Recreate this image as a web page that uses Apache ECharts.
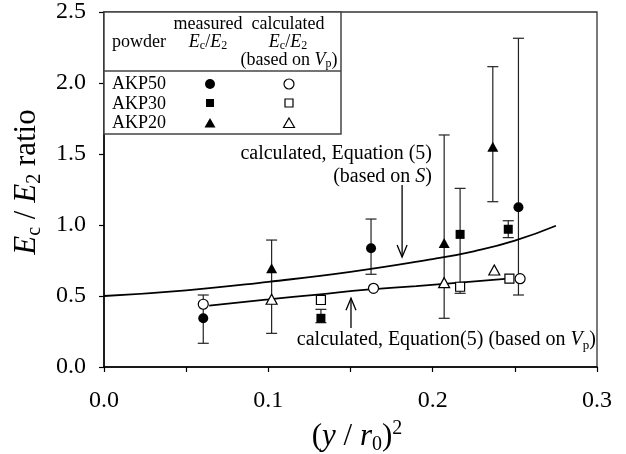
<!DOCTYPE html>
<html><head><meta charset="utf-8">
<script src="https://cdn.jsdelivr.net/npm/echarts@6/dist/echarts.min.js"></script>
<style>html,body{margin:0;padding:0;background:#fff}#c{width:626px;height:454px}</style>
</head><body><div id="c"></div>
<script>
// ---- data ----
const xTicks = [0.0, 0.1, 0.2, 0.3];
const yTicks = [0.0, 0.5, 1.0, 1.5, 2.0, 2.5];

// measured Ec/E2 with error bars
const akp50X = [0.0604, 0.1625, 0.2522];
const akp50Meas = [0.343, 0.836, 1.125];
const akp50Low = [0.167, 0.653, 0.507];
const akp50High = [0.507, 1.042, 2.315];

const akp30X = [0.132, 0.2167, 0.246];
const akp30Meas = [0.343, 0.934, 0.970];
const akp30Low = [0.312, 0.519, 0.911];
const akp30High = [0.406, 1.258, 1.030];

const akp20X = [0.102, 0.207, 0.2366];
const akp20Meas = [0.695, 0.873, 1.551];
const akp20Low = [0.237, 0.343, 1.164];
const akp20High = [0.894, 1.634, 2.115];

// calculated Ec/E2 (based on Vp)
const akp50CalcX = [0.0604, 0.164, 0.2532];
const akp50Calc = [0.442, 0.554, 0.622];
const akp30CalcX = [0.132, 0.2167, 0.2467];
const akp30Calc = [0.472, 0.565, 0.622];
const akp20CalcX = [0.102, 0.207, 0.2375];
const akp20Calc = [0.477, 0.594, 0.683];

// Equation (5) curves
const curveSX = [0, 0.05, 0.1, 0.15, 0.2, 0.225, 0.25, 0.275];
const curveSY = [0.50, 0.54, 0.60, 0.67, 0.76, 0.815, 0.89, 0.995];
const curveVpX = [0.064, 0.1, 0.13, 0.16, 0.19, 0.22, 0.246];
const curveVpY = [0.432, 0.476, 0.51, 0.545, 0.57, 0.598, 0.622];

// annotation arrows: x, tail y, tip y
const arrowX = [0.1814, 0.1503];
const arrowFrom = [1.282, 0.275];
const arrowTo = [0.775, 0.484];

// ---- chart ----
const FONT = 'Liberation Serif';
const zip = (a, b) => a.map((v, i) => [v, b[i]]);

function errSeries(xs, lo, hi) {
  return {
    type: 'custom', silent: true, z: 2,
    data: xs.map((x, i) => [x, lo[i], hi[i]]),
    encode: { x: 0, y: [1, 2] },
    renderItem: (params, api) => {
      const x = api.value(0);
      const a = api.coord([x, api.value(1)]);
      const b = api.coord([x, api.value(2)]);
      const w = 5.5;
      const st = { stroke: '#222', lineWidth: 1.2 };
      return { type: 'group', children: [
        { type: 'line', shape: { x1: a[0], y1: a[1], x2: b[0], y2: b[1] }, style: st },
        { type: 'line', shape: { x1: a[0] - w, y1: a[1], x2: a[0] + w, y2: a[1] }, style: st },
        { type: 'line', shape: { x1: b[0] - w, y1: b[1], x2: b[0] + w, y2: b[1] }, style: st }
      ]};
    }
  };
}

function scat(xs, ys, symbol, size, open) {
  return {
    type: 'scatter', symbol: symbol, symbolSize: size, z: 5,
    data: zip(xs, ys),
    itemStyle: open ? { color: '#fff', borderColor: '#000', borderWidth: 1.2, opacity: 1 }
                    : { color: '#000', opacity: 1 }
  };
}

const arrowSeries = {
  type: 'custom', silent: true, z: 3,
  data: arrowX.map((x, i) => [x, arrowFrom[i], arrowTo[i]]),
  encode: { x: 0, y: [1, 2] },
  renderItem: (params, api) => {
    const x = api.value(0);
    const a = api.coord([x, api.value(1)]);
    const b = api.coord([x, api.value(2)]);
    const dir = b[1] > a[1] ? 1 : -1;
    const st = { stroke: '#000', lineWidth: 1.3, fill: null };
    return { type: 'group', children: [
      { type: 'line', shape: { x1: a[0], y1: a[1], x2: b[0], y2: b[1] }, style: st },
      { type: 'polyline', shape: { points: [[b[0] - 5, b[1] - dir * 12], [b[0], b[1]], [b[0] + 5, b[1] - dir * 12]] }, style: st }
    ]};
  }
};

const richBase = {
  n: { fontFamily: FONT, fontSize: 20, color: '#000', lineHeight: 24 },
  i: { fontFamily: FONT, fontSize: 20, fontStyle: 'italic', color: '#000', lineHeight: 24 },
  s: { fontFamily: FONT, fontSize: 13, color: '#000', lineHeight: 13, verticalAlign: 'bottom' }
};
const richLeg = {
  n: { fontFamily: FONT, fontSize: 18, color: '#000', lineHeight: 20 },
  i: { fontFamily: FONT, fontSize: 18, fontStyle: 'italic', color: '#000', lineHeight: 20 },
  s: { fontFamily: FONT, fontSize: 12, color: '#000', lineHeight: 12, verticalAlign: 'bottom' }
};
const richTitle = {
  n: { fontFamily: FONT, fontSize: 31, color: '#000', lineHeight: 36 },
  i: { fontFamily: FONT, fontSize: 31, fontStyle: 'italic', color: '#000', lineHeight: 36 },
  s: { fontFamily: FONT, fontSize: 20, color: '#000', lineHeight: 20, verticalAlign: 'bottom' },
  p: { fontFamily: FONT, fontSize: 20, color: '#000', lineHeight: 20, verticalAlign: 'top' }
};

function txt(x, y, text, rich, align, extra) {
  return Object.assign({ type: 'text', x: x, y: y, z: 10,
    style: { text: text, rich: rich, align: align || 'left', verticalAlign: 'middle', fontFamily: FONT } }, extra || {});
}

const legendGraphics = [
  { type: 'rect', z: 10, shape: { x: 104, y: 12, width: 237, height: 122 }, style: { fill: '#fff', stroke: '#444', lineWidth: 1.5 } },
  { type: 'line', z: 11, shape: { x1: 104, y1: 71, x2: 341, y2: 71 }, style: { stroke: '#444', lineWidth: 1.5 } },
  txt(112, 42, '{n|powder}', richLeg),
  txt(208, 24, '{n|measured}', richLeg, 'center'),
  txt(208, 42, '{i|E}{s|c}{n|/}{i|E}{s|2}', richLeg, 'center'),
  txt(288, 24, '{n|calculated}', richLeg, 'center'),
  txt(288, 42, '{i|E}{s|c}{n|/}{i|E}{s|2}', richLeg, 'center'),
  txt(289, 60, '{n|(based on }{i|V}{s|p}{n|)}', richLeg, 'center'),
  txt(112, 84, '{n|AKP50}', richLeg),
  txt(112, 104, '{n|AKP30}', richLeg),
  txt(112, 123, '{n|AKP20}', richLeg),
  { type: 'circle', z: 12, shape: { cx: 210, cy: 84, r: 5 }, style: { fill: '#000' } },
  { type: 'circle', z: 12, shape: { cx: 289, cy: 84, r: 5 }, style: { fill: '#fff', stroke: '#000', lineWidth: 1.2 } },
  { type: 'rect', z: 12, shape: { x: 206, y: 99, width: 8, height: 8 }, style: { fill: '#000' } },
  { type: 'rect', z: 12, shape: { x: 285, y: 99, width: 8, height: 8 }, style: { fill: '#fff', stroke: '#000', lineWidth: 1.2 } },
  { type: 'polygon', z: 12, shape: { points: [[210, 118], [215.5, 127.5], [204.5, 127.5]] }, style: { fill: '#000' } },
  { type: 'polygon', z: 12, shape: { points: [[289, 118], [294.5, 127.5], [283.5, 127.5]] }, style: { fill: '#fff', stroke: '#000', lineWidth: 1.2 } }
];

const annot = [
  txt(432, 154, '{n|calculated, Equation (5)}', richBase, 'right'),
  txt(432, 177, '{n|(based on }{i|S}{n|)}', richBase, 'right'),
  txt(596, 340, '{n|calculated, Equation(5) (based on }{i|V}{s|p}{n|)}', richBase, 'right'),
  txt(27, 182, '{i|E}{s|c}{n| / }{i|E}{s|2}{n| ratio}', richTitle, 'center', { rotation: Math.PI / 2 }),
  txt(357, 437, '{n|(}{i|y}{n| / }{i|r}{s|0}{n|)}{p|2}', richTitle, 'center')
];

const chart = echarts.init(document.getElementById('c'), null, { renderer: 'canvas' });
chart.setOption({
  animation: false,
  backgroundColor: '#fff',
  grid: { left: 104, right: 29, top: 12, bottom: 87, show: true, borderColor: '#333', borderWidth: 1.3, containLabel: false },
  xAxis: {
    type: 'value', min: xTicks[0], max: xTicks[xTicks.length - 1], interval: 0.1,
    axisLine: { show: true, onZero: false, lineStyle: { color: '#000', width: 1.5 } },
    axisTick: { show: true, length: 5, lineStyle: { color: '#000', width: 1.2 } },
    minorTick: { show: true, splitNumber: 2, length: 5, lineStyle: { color: '#000', width: 1.2 } },
    splitLine: { show: false },
    axisLabel: { fontFamily: FONT, fontSize: 24, color: '#000', margin: 22, formatter: v => v.toFixed(1) }
  },
  yAxis: {
    type: 'value', min: yTicks[0], max: yTicks[yTicks.length - 1], interval: 0.5,
    axisLine: { show: true, onZero: false, lineStyle: { color: '#000', width: 1.5 } },
    axisTick: { show: true, length: 5, lineStyle: { color: '#000', width: 1.2 } },
    splitLine: { show: false },
    axisLabel: { fontFamily: FONT, fontSize: 24, color: '#000', margin: 18, formatter: v => v.toFixed(1) }
  },
  series: [
    errSeries(akp50X, akp50Low, akp50High),
    errSeries(akp30X, akp30Low, akp30High),
    errSeries(akp20X, akp20Low, akp20High),
    { type: 'line', smooth: true, symbol: 'none', z: 3, data: zip(curveSX, curveSY), lineStyle: { color: '#000', width: 1.8 } },
    { type: 'line', smooth: true, symbol: 'none', z: 3, data: zip(curveVpX, curveVpY), lineStyle: { color: '#000', width: 1.8 } },
    arrowSeries,
    scat(akp50X, akp50Meas, 'circle', 10, false),
    scat(akp30X, akp30Meas, 'rect', 9, false),
    scat(akp20X, akp20Meas, 'triangle', [11, 10], false),
    scat(akp50CalcX, akp50Calc, 'circle', 10, true),
    scat(akp30CalcX, akp30Calc, 'rect', 9, true),
    scat(akp20CalcX, akp20Calc, 'triangle', [11, 10], true)
  ],
  graphic: legendGraphics.concat(annot)
});
</script></body></html>
